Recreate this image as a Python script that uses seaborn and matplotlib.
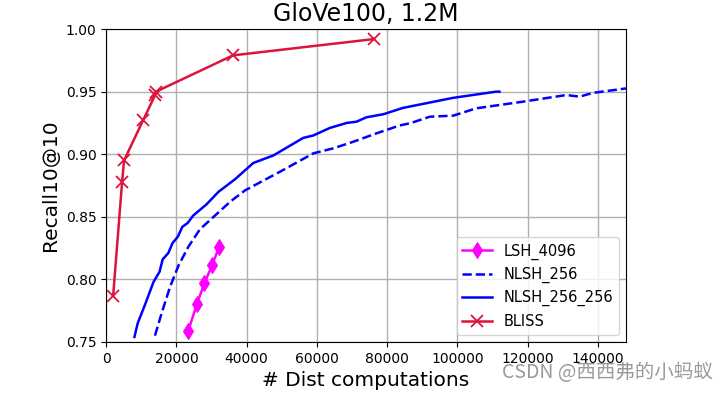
import numpy as np
import pandas as pd
import seaborn as sns
import matplotlib.pyplot as plt

# values
lsh_x = [23400, 25800, 28000, 30200, 32100]
lsh_y = [0.759, 0.780, 0.797, 0.8115, 0.8256]

nlsh_x = [13900, 15800, 18200, 20600, 23400, 26700, 31000, 35300, 39500, 44800,
          49500, 59000, 64700, 70400, 77000, 83600, 86500, 92200, 98800, 105400,
          118700, 131000, 134800, 138600, 148100]
nlsh_y = [0.755, 0.773, 0.794, 0.811, 0.826, 0.840, 0.851, 0.862, 0.871, 0.879,
          0.886, 0.9007, 0.9047, 0.910, 0.9167, 0.923, 0.9247, 0.930, 0.9308, 0.9367,
          0.942, 0.9473, 0.946, 0.949, 0.9526]

nlsh2_x = [8050, 9000, 11100, 13500, 15200, 16100, 17700, 18900, 20400, 21700,
           23200, 24800, 28600, 32000, 36700, 39500, 41900, 47600, 56100, 59000,
           63700, 68500, 71300, 74100, 79000, 84500, 98700, 111000, 112000]
nlsh2_y = [0.754, 0.765, 0.780, 0.798, 0.806, 0.816, 0.821, 0.829, 0.834, 0.842,
           0.845, 0.851, 0.860, 0.870, 0.880, 0.887, 0.893, 0.899, 0.913, 0.915,
           0.921, 0.925, 0.926, 0.9295, 0.932, 0.937, 0.945, 0.950, 0.950]

bliss_x = [2000, 4550, 5100, 10500, 13900, 14200, 36100, 76200]
bliss_y = [0.787, 0.878, 0.895, 0.927, 0.947, 0.950, 0.979, 0.992]

fig = plt.figure(figsize=(7.27, 3.93), dpi=100)
ax = fig.add_axes([0.146, 0.130, 0.715, 0.796])

sns.lineplot(x=lsh_x, y=lsh_y, ax=ax, color="magenta", marker="d", markersize=8,
             markeredgecolor="magenta", linewidth=1.8, sort=False, estimator=None, label="LSH_4096")
sns.lineplot(x=nlsh_x, y=nlsh_y, ax=ax, color="blue", linestyle="--", linewidth=1.8,
             sort=False, estimator=None, label="NLSH_256")
sns.lineplot(x=nlsh2_x, y=nlsh2_y, ax=ax, color="blue", linewidth=1.8,
             sort=False, estimator=None, label="NLSH_256_256")
sns.lineplot(x=bliss_x, y=bliss_y, ax=ax, color="crimson", marker="x", markersize=8,
             markeredgecolor="crimson", markeredgewidth=1.3, linewidth=1.8,
             sort=False, estimator=None, label="BLISS")

ax.set_xlim(0, 148000)
ax.set_ylim(0.75, 1.0)
ax.set_xticks(np.arange(0, 140001, 20000))
ax.set_yticks([0.75, 0.80, 0.85, 0.90, 0.95, 1.00])
ax.grid(True, color="#b0b0b0", linewidth=1)
ax.tick_params(labelsize=10)
ax.set_xlabel("# Dist computations", fontsize=14.5)
ax.set_ylabel("Recall10@10", fontsize=14.5)
ax.set_title("GloVe100, 1.2M", fontsize=17)
ax.legend(loc="lower right", fontsize=10.5)

fig.text(0.98, 0.025, "CSDN @西西弗的小蚂蚁", ha="right", va="bottom", fontsize=14,
         color="#9a9a9a", family=["Noto Sans CJK SC", "DejaVu Sans"])

fig.savefig("out.png", dpi=100)
